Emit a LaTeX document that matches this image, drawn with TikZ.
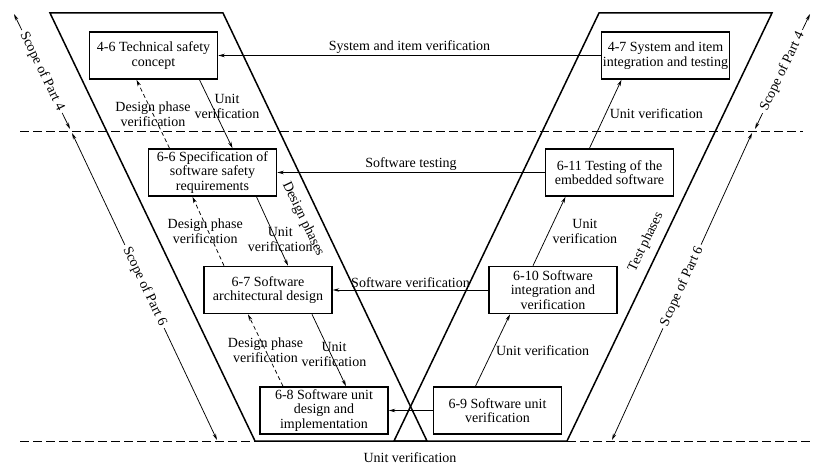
\documentclass[tikz,border=0pt]{standalone}
\usepackage{fontspec}
\setmainfont{Liberation Serif}
\usetikzlibrary{arrows.meta}

\tikzstyle{procBox} = [rectangle, minimum width=128pt, minimum height=47pt, text centered, align=center, draw=black, line width=1.6pt, inner sep=1pt, font=\fontsize{14}{14.5}\selectfont]
\tikzstyle{lbl} = [font=\fontsize{14}{14.5}\selectfont, align=center, inner sep=1pt]
\tikzstyle{arrow} = [line width=0.75pt,-{Stealth[length=6.5pt,width=3.5pt]}]
\tikzstyle{dashArrow} = [arrow, dash pattern=on 4pt off 3pt]
\tikzstyle{phaseEdge} = [line width=1.5pt, line join=miter]
\tikzstyle{levelLine} = [line width=0.8pt, dash pattern=on 9pt off 4pt]
\tikzstyle{scopeLine} = [line width=0.75pt,{Stealth[length=6.5pt,width=3.5pt]}-{Stealth[length=6.5pt,width=3.5pt]}]

\begin{document}
\begin{tikzpicture}[x=1pt, y=-1pt]
    \useasboundingbox[fill=white] (0,0) rectangle (831,473);

    % design and test phases
    \draw [phaseEdge] (50,13) -- (223,13) -- (427,441) -- (255,441) -- cycle;
    \draw [phaseEdge] (599,13) -- (772,13) -- (567,441) -- (394,441) -- cycle;
    \node (designPh)[lbl, rotate=-64.4] at (303,219) {Design phases};
    \node (testPh)[lbl, rotate=64.4] at (646,242) {Test phases};

    % part borders
    \draw [levelLine] (20,131) -- (803,131);
    \draw [levelLine] (20,441) -- (255,441);
    \draw [levelLine] (567,441) -- (812,441);

    \node (tsc)[procBox] at (153.5,55.5) {4-6 Technical safety\\concept};
    \node (sssr)[procBox] at (212.5,172.5) {6-6 Specification of\\software safety\\requirements};
    \node (sad)[procBox] at (268,290) {6-7 Software\\architectural design};
    \node (sud)[procBox] at (324,410.5) {6-8 Software unit\\design and\\implementation};

    \node (sit)[procBox] at (665.5,55.5) {4-7 System and item\\integration and testing};
    \node (tes)[procBox] at (609.5,172.5) {6-11 Testing of the\\embedded software};
    \node (siv)[procBox] at (553,290) {6-10 Software\\integration and\\verification};
    \node (suv)[procBox] at (497.5,410.5) {6-9 Software unit\\verification};

    % left side
    \draw [arrow] ([xshift=46pt]tsc.south) -- ([xshift=20pt]sssr.north) node[lbl, midway, xshift=11pt, yshift=7.5pt]{Unit\\verification};
    \draw [dashArrow] ([xshift=-43pt]sssr.north) -- ([xshift=-17pt]tsc.south) node[lbl, midway]{Design phase\\verification};
    \draw [arrow] ([xshift=44pt]sssr.south) -- ([xshift=20pt]sad.north) node[lbl, midway, xshift=8pt, yshift=-8pt]{Unit\\verification};
    \draw [dashArrow] ([xshift=-44pt]sad.north) -- ([xshift=-20pt]sssr.south) node[lbl, midway, xshift=-3pt]{Design phase\\verification};
    \draw [arrow] ([xshift=44pt]sad.south) -- ([xshift=22pt]sud.north) node[lbl, midway, xshift=5pt, yshift=-4pt]{Unit\\verification};
    \draw [dashArrow] ([xshift=-41pt]sud.north) -- ([xshift=-20pt]sad.south) node[lbl, midway]{Design phase\\verification};

    % right side
    \draw [arrow] ([xshift=-22pt]suv.north) -- ([xshift=-43pt]siv.south) node[lbl, midway, right, xshift=2pt]{Unit verification};
    \draw [arrow] ([xshift=-20pt]siv.north) -- ([xshift=-44pt]tes.south) node[lbl, midway, right, xshift=2pt]{Unit\\verification};
    \draw [arrow] ([xshift=-20pt]tes.north) -- ([xshift=-44pt]sit.south) node[lbl, midway, right, xshift=3pt]{Unit verification};

    % verification
    \draw [arrow] (sit.west) -- (tsc.east) node[lbl, midway, above, yshift=1pt]{System and item verification};
    \draw [arrow] (tes.west) -- (sssr.east) node[lbl, midway, above, yshift=1pt]{Software testing};
    \draw [arrow] (siv.west) -- (sad.east) node[lbl, midway, above, yshift=1pt]{Software verification};
    \draw [arrow] (suv.west) -- (sud.east);
    \node (uvBottom)[lbl] at (410,458) {Unit verification};

    % scopes
    \coordinate (s4lTop) at (14,14);
    \coordinate (s4lBot) at (70,129);
    \coordinate (s6lTop) at (72,133);
    \coordinate (s6lBot) at (217,440);
    \coordinate (s4rBot) at (755,129);
    \coordinate (s4rTop) at (810,14);
    \coordinate (s6rBot) at (612,440);
    \coordinate (s6rTop) at (752,133);
    \draw [scopeLine] (s4lTop) -- node[lbl, sloped, fill=white, inner sep=3pt] (s4lText) {Scope of Part 4} (s4lBot);
    \draw [scopeLine] (s6lTop) -- node[lbl, sloped, fill=white, inner sep=3pt] (s6lText) {Scope of Part 6} (s6lBot);
    \draw [scopeLine] (s4rBot) -- node[lbl, sloped, fill=white, inner sep=3pt] (s4rText) {Scope of Part 4} (s4rTop);
    \draw [scopeLine] (s6rBot) -- node[lbl, sloped, fill=white, inner sep=3pt] (s6rText) {Scope of Part 6} (s6rTop);
\end{tikzpicture}
\end{document}
